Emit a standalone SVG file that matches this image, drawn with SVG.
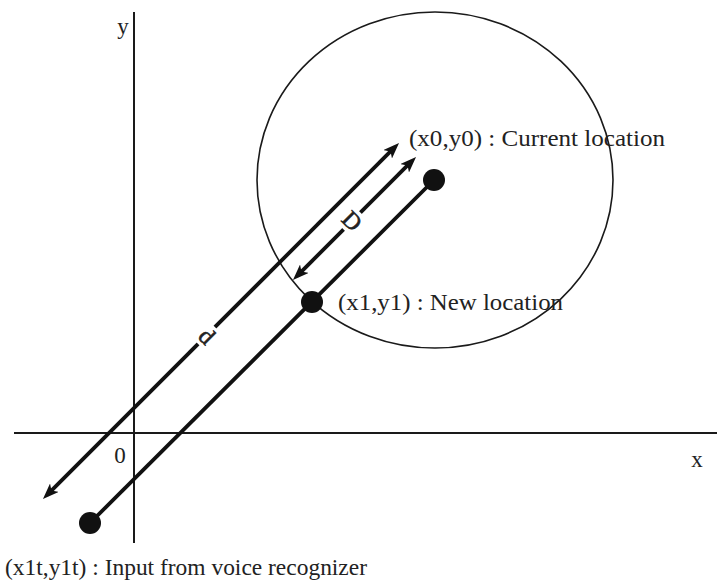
<svg xmlns="http://www.w3.org/2000/svg" width="717" height="582" viewBox="0 0 717 582">
<style>
.axis{stroke:#1a1a1a;stroke-width:2;fill:none}
.circ{stroke:#1a1a1a;stroke-width:1.6;fill:none}
.thick{stroke:#111;stroke-width:3.8;fill:none}
.dot{fill:#111}
.t{font-family:"Liberation Serif","Times New Roman",serif;font-size:23px;fill:#222}
.lbl{font-family:"Liberation Serif","Times New Roman",serif;font-size:24px;fill:#222;stroke:#222;stroke-width:0.6}
.gap{fill:#fff}
</style>
<defs>
<marker id="ah" viewBox="0 0 16 12" refX="10" refY="6" markerWidth="16" markerHeight="12" markerUnits="userSpaceOnUse" orient="auto-start-reverse">
<path d="M0,0 L16,6 L0,12 L4,6 z" fill="#111"/>
</marker>
</defs>
<g id="axes">
<line class="axis" x1="134" y1="12" x2="134" y2="543"/>
<line class="axis" x1="14" y1="433" x2="717" y2="433"/>
<text class="t" x="123" y="34" text-anchor="middle">y</text>
<text class="t" x="697" y="467" text-anchor="middle">x</text>
<text class="t" x="120" y="463" text-anchor="middle">0</text>
</g>
<g id="circle">
<ellipse class="circ" cx="435" cy="180" rx="178" ry="168"/>
</g>
<g id="connectors">
<line class="thick" x1="47.2" y1="494.8" x2="394.8" y2="147.2" marker-start="url(#ah)" marker-end="url(#ah)"/>
<line class="thick" x1="297.2" y1="275.8" x2="411.8" y2="161.2" marker-start="url(#ah)" marker-end="url(#ah)"/>
<line class="thick" x1="90" y1="523" x2="434" y2="180"/>
<g transform="translate(207,336) rotate(45)">
<rect class="gap" x="-9" y="-12" width="18" height="24"/>
<text class="lbl" x="0" y="8" text-anchor="middle">d</text>
</g>
<g transform="translate(352,221) rotate(45)">
<rect class="gap" x="-9" y="-12" width="18" height="24"/>
<text class="lbl" x="0" y="8" text-anchor="middle">D</text>
</g>
</g>
<g id="current">
<circle class="dot" cx="434" cy="180" r="11"/>
<text class="t" x="409" y="146" textLength="256" lengthAdjust="spacingAndGlyphs">(x0,y0) : Current location</text>
</g>
<g id="new">
<circle class="dot" cx="312" cy="302" r="11"/>
<text class="t" x="338" y="310" textLength="225" lengthAdjust="spacingAndGlyphs">(x1,y1) : New location</text>
</g>
<g id="input">
<circle class="dot" cx="90" cy="523" r="11"/>
<text class="t" x="5" y="575" textLength="362" lengthAdjust="spacingAndGlyphs">(x1t,y1t) : Input from voice recognizer</text>
</g>
</svg>
